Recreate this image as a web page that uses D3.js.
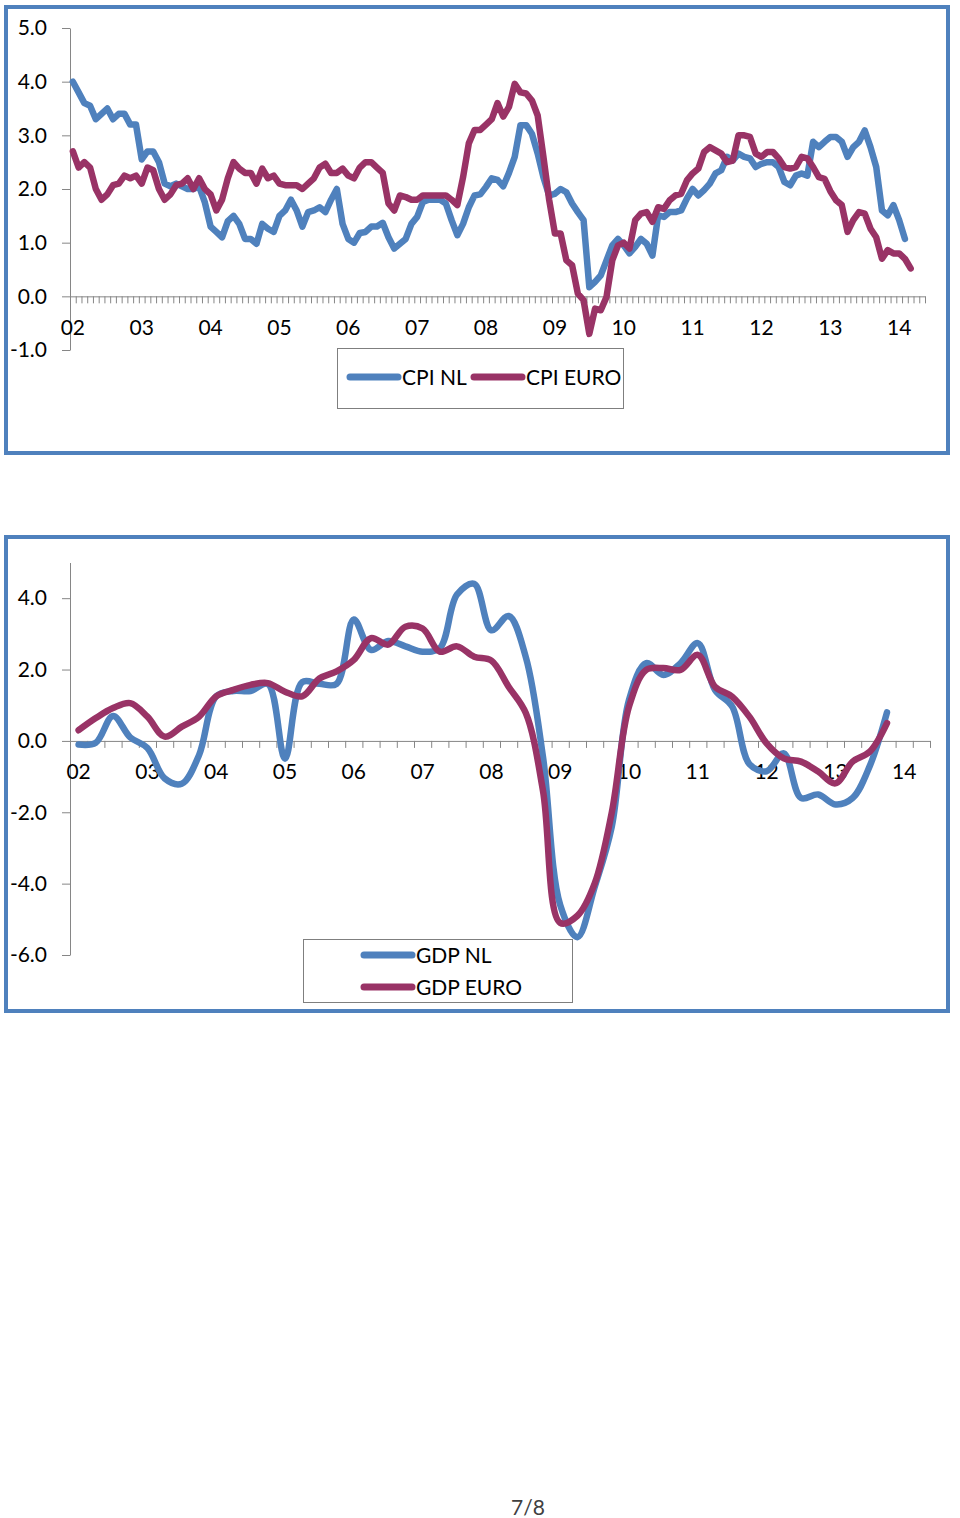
<!DOCTYPE html>
<html><head><meta charset="utf-8">
<script src="https://cdn.jsdelivr.net/npm/d3@7"></script>
<style>
body{margin:0;background:#fff}
svg{display:block}
text{font-family:Lato, "Open Sans", sans-serif}
</style>
</head><body>
<svg id="c" width="960" height="1518"></svg>
<script>
// ---------- data ----------
const yearLabels = ["02","03","04","05","06","07","08","09","10","11","12","13","14"];
const cpiTickValues = [-1,0,1,2,3,4,5];
const gdpTickValues = [-6,-4,-2,0,2,4];

// monthly CPI, Jan 2002 onwards
const cpiNL = [
 4.0,3.8,3.6,3.55,3.3,3.4,3.5,3.3,3.4,3.4,3.2,3.2,
 2.55,2.7,2.7,2.5,2.1,2.05,2.1,2.05,2.0,2.0,2.05,1.75,
 1.3,1.2,1.1,1.4,1.5,1.35,1.07,1.07,0.98,1.35,1.26,1.2,
 1.5,1.6,1.8,1.6,1.3,1.57,1.6,1.66,1.57,1.8,2.0,1.35,
 1.07,1.0,1.18,1.2,1.3,1.3,1.37,1.1,0.89,0.98,1.07,1.35,
 1.48,1.76,1.8,1.8,1.8,1.73,1.42,1.14,1.35,1.66,1.88,1.9,
 2.04,2.2,2.17,2.05,2.3,2.6,3.19,3.19,3.03,2.66,2.22,1.88,
 1.91,2.0,1.94,1.73,1.57,1.42,0.17,0.27,0.39,0.67,0.95,1.07,
 0.95,0.8,0.92,1.07,0.98,0.76,1.51,1.48,1.57,1.57,1.6,1.82,
 2.0,1.88,1.98,2.1,2.29,2.35,2.6,2.53,2.66,2.6,2.57,2.41,
 2.47,2.5,2.5,2.41,2.13,2.07,2.25,2.29,2.25,2.88,2.78,2.88,
 2.97,2.97,2.88,2.6,2.78,2.88,3.09,2.78,2.41,1.6,1.51,1.7,
 1.42,1.07
];
const cpiEuro = [
 2.7,2.4,2.5,2.4,2.0,1.8,1.9,2.07,2.1,2.25,2.2,2.25,
 2.1,2.4,2.35,2.0,1.8,1.9,2.07,2.1,2.2,2.0,2.2,2.0,
 1.9,1.6,1.8,2.2,2.5,2.38,2.3,2.3,2.1,2.38,2.2,2.25,
 2.1,2.07,2.07,2.07,2.0,2.1,2.2,2.4,2.47,2.3,2.3,2.38,
 2.25,2.2,2.4,2.5,2.5,2.4,2.3,1.73,1.6,1.88,1.85,1.8,
 1.8,1.88,1.88,1.88,1.88,1.88,1.8,1.7,2.22,2.85,3.1,3.1,
 3.2,3.3,3.6,3.35,3.53,3.96,3.8,3.78,3.65,3.37,2.6,1.8,
 1.17,1.17,0.67,0.58,0.05,-0.07,-0.7,-0.23,-0.26,-0.01,0.67,0.95,
 1.0,0.89,1.42,1.54,1.57,1.39,1.66,1.63,1.79,1.88,1.91,2.16,
 2.29,2.38,2.69,2.78,2.72,2.66,2.5,2.53,3.0,3.0,2.97,2.66,
 2.6,2.69,2.69,2.57,2.41,2.38,2.41,2.6,2.57,2.41,2.22,2.19,
 1.96,1.79,1.7,1.2,1.42,1.57,1.54,1.26,1.1,0.7,0.86,0.8,
 0.8,0.7,0.52
];
// quarterly GDP, 2002Q1 onwards
const gdpNL = [
 -0.1,-0.05,0.7,0.1, -0.2,-1.05,-1.2,-0.4, 1.25,1.4,1.4,1.6,
 -0.5,1.65,1.6,1.6, 3.4,2.55,2.8,2.65, 2.5,2.6,4.1,4.4,
 3.1,3.5,2.35,-0.45, -4.6,-5.5,-4.1,-2.4, 1.15,2.18,1.85,2.18,
 2.74,1.43,0.96,-0.65, -0.85,-0.35,-1.6,-1.5, -1.78,-1.6,-0.7,0.8
];
const gdpEuro = [
 0.3,0.64,0.92,1.06, 0.68,0.12,0.4,0.68, 1.25,1.43,1.57,1.62,
 1.38,1.25,1.75,1.95, 2.27,2.88,2.7,3.2, 3.15,2.5,2.65,2.36,
 2.25,1.52,0.78,-1.4, -5.1,-4.9,-4.0,-2.0, 0.96,1.99,2.04,1.99,
 2.41,1.52,1.24,0.68, -0.07,-0.49,-0.58,-0.86, -1.19,-0.58,-0.3,0.5
];
const cpiSeries = [
  {name:"CPI NL", values:cpiNL, color:"#4F81BD"},
  {name:"CPI EURO", values:cpiEuro, color:"#993366"}
];
const gdpSeries = [
  {name:"GDP NL", values:gdpNL, color:"#4F81BD"},
  {name:"GDP EURO", values:gdpEuro, color:"#993366"}
];
const nMonths = 149, nQuarters = 50;

// ---------- drawing ----------
const svg = d3.select("#c");
const axisColor = "#868686";
const frameColor = "#4F81BD";
const fmt = d => d.toFixed(1);

function styleAxis(g){
  g.selectAll(".domain").attr("stroke", axisColor);
  g.selectAll(".tick line").attr("stroke", axisColor);
  g.selectAll("text").attr("fill","#000").attr("font-size","21px").attr("font-family","Lato, sans-serif");
}

function drawChart(opt){
  svg.append("rect").attr("x",opt.frame[0]).attr("y",opt.frame[1])
    .attr("width",opt.frame[2]).attr("height",opt.frame[3])
    .attr("fill","none").attr("stroke",frameColor).attr("stroke-width",4);

  const y = d3.scaleLinear().domain(opt.yDomain).range(opt.yRange);
  const xb = d3.scaleBand().domain(d3.range(opt.n)).range([70, opt.xEnd]).paddingInner(0).paddingOuter(0);
  const xl = d3.scaleLinear().domain([0,opt.n]).range([70, opt.xEnd]);
  const cx = i => xb(i) + xb.bandwidth()/2;

  const gy = svg.append("g").attr("transform","translate(70,0)")
    .call(d3.axisLeft(y).tickValues(opt.yTicks).tickFormat(fmt).tickSize(8).tickSizeOuter(0).tickPadding(15));
  styleAxis(gy);

  const y0 = y(0);
  const gx = svg.append("g").attr("transform",`translate(0,${y0})`)
    .call(d3.axisBottom(xl).tickValues(d3.range(0, opt.n+1)).tickFormat("").tickSize(7).tickSizeOuter(0));
  styleAxis(gx);

  const gl = svg.append("g").attr("transform",`translate(0,${y0})`)
    .call(d3.axisBottom(xb).tickValues(yearLabels.map((d,i)=>i*opt.perYear))
      .tickFormat((d,i)=>yearLabels[i]).tickSize(0).tickPadding(opt.labelPad));
  gl.select(".domain").remove();
  styleAxis(gl);

  const line = d3.line().x((d,i)=>cx(i)).y(d=>y(d)).curve(opt.curve);
  opt.series.forEach(s=>{
    svg.append("path").datum(s.values).attr("d",line)
      .attr("fill","none").attr("stroke",s.color).attr("stroke-width",6.5)
      .attr("stroke-linejoin","round").attr("stroke-linecap","round");
  });

  const L = opt.legend;
  svg.append("rect").attr("x",L.box[0]+0.5).attr("y",L.box[1]+0.5).attr("width",L.box[2]).attr("height",L.box[3])
    .attr("fill","#fff").attr("stroke","#7f7f7f").attr("stroke-width",1);
  opt.series.forEach((s,i)=>{
    const it = L.items[i];
    svg.append("line").attr("x1",it[0]).attr("x2",it[0]+48).attr("y1",it[1]).attr("y2",it[1])
      .attr("stroke",s.color).attr("stroke-width",7).attr("stroke-linecap","round");
    svg.append("text").attr("x",it[0]+52).attr("y",it[1]+8).attr("font-size","21px").attr("fill","#000").text(s.name);
  });
}

drawChart({
  frame:[6,7,942,446],
  yDomain:[-1,5], yRange:[350,28], yTicks:cpiTickValues,
  n:nMonths, xEnd:925, perYear:12, labelPad:24,
  series:cpiSeries, curve:d3.curveLinear,
  legend:{box:[337,348,286,60], items:[[350,377],[474,377]]}
});

drawChart({
  frame:[6,537,942,474],
  yDomain:[-6,5], yRange:[955,562.5], yTicks:gdpTickValues,
  n:nQuarters, xEnd:930, perYear:4, labelPad:23,
  series:gdpSeries, curve:d3.curveCatmullRom.alpha(0.5),
  legend:{box:[303,939,269,63], items:[[364,955],[364,987]]}
});

svg.append("text").attr("x",528).attr("y",1515).attr("text-anchor","middle")
  .attr("font-size","21px").attr("fill","#404040").text("7/8");
</script>
</body></html>
